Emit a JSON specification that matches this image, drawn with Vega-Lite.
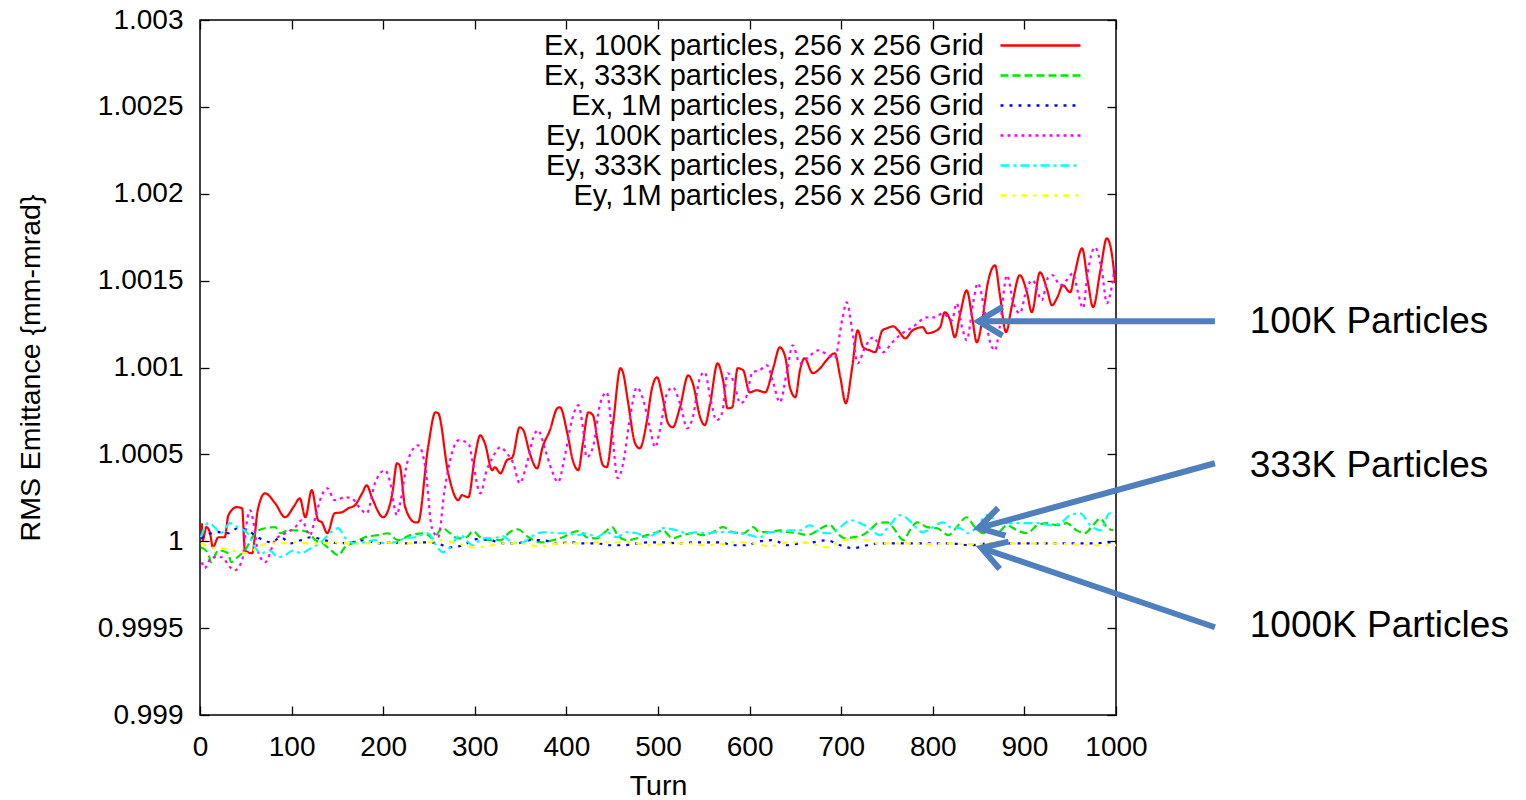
{
  "$schema": "https://vega.github.io/schema/vega-lite/v6.json",
  "width": 916,
  "height": 695,
  "autosize": {"type": "none"},
  "padding": {"left": 200, "top": 20, "right": 410, "bottom": 85},
  "background": "white",
  "config": {
    "view": {"stroke": "black", "strokeWidth": 1.5},
    "font": "Liberation Sans",
    "axis": {
      "domain": false,
      "grid": false,
      "tickColor": "black",
      "tickSize": -9,
      "tickWidth": 1.3,
      "labelFont": "Liberation Sans",
      "labelFontSize": 28,
      "labelColor": "black",
      "labelFlush": false,
      "labelOverlap": false,
      "titleFont": "Liberation Sans",
      "titleFontSize": 28.5,
      "titleFontWeight": "normal",
      "titleColor": "black"
    }
  },
  "datasets": {
    "emit": [
      {"s":"Ex100K","t":2,"v":1.000104},{"s":"Ex100K","t":3,"v":1.000006},{"s":"Ex100K","t":7,"v":1.000082},{"s":"Ex100K","t":11,"v":1.000046},{"s":"Ex100K","t":14,"v":0.999965},{"s":"Ex100K","t":20,"v":1.000023},{"s":"Ex100K","t":27,"v":1.000023},{"s":"Ex100K","t":31,"v":1.00015},{"s":"Ex100K","t":40,"v":1.000196},{"s":"Ex100K","t":46,"v":1.00019},{"s":"Ex100K","t":49,"v":0.999948},{"s":"Ex100K","t":57,"v":0.999931},{"s":"Ex100K","t":63,"v":1.000178},{"s":"Ex100K","t":71,"v":1.000276},{"s":"Ex100K","t":82,"v":1.000219},{"s":"Ex100K","t":93,"v":1.000138},{"s":"Ex100K","t":102,"v":1.000196},{"s":"Ex100K","t":109,"v":1.000247},{"s":"Ex100K","t":115,"v":1.000138},{"s":"Ex100K","t":122,"v":1.000294},{"s":"Ex100K","t":129,"v":1.000121},{"s":"Ex100K","t":133,"v":1.000109},{"s":"Ex100K","t":139,"v":1.000046},{"s":"Ex100K","t":147,"v":1.000161},{"s":"Ex100K","t":155,"v":1.000167},{"s":"Ex100K","t":162,"v":1.00019},{"s":"Ex100K","t":169,"v":1.000207},{"s":"Ex100K","t":177,"v":1.000276},{"s":"Ex100K","t":182,"v":1.000322},{"s":"Ex100K","t":188,"v":1.000247},{"s":"Ex100K","t":200,"v":1.000138},{"s":"Ex100K","t":210,"v":1.000276},{"s":"Ex100K","t":215,"v":1.000449},{"s":"Ex100K","t":218,"v":1.000437},{"s":"Ex100K","t":224,"v":1.000196},{"s":"Ex100K","t":235,"v":1.000109},{"s":"Ex100K","t":238,"v":1.000109},{"s":"Ex100K","t":249,"v":1.000541},{"s":"Ex100K","t":257,"v":1.000742},{"s":"Ex100K","t":260,"v":1.000737},{"s":"Ex100K","t":271,"v":1.000391},{"s":"Ex100K","t":282,"v":1.000236},{"s":"Ex100K","t":286,"v":1.000265},{"s":"Ex100K","t":293,"v":1.000253},{"s":"Ex100K","t":300,"v":1.000483},{"s":"Ex100K","t":306,"v":1.00061},{"s":"Ex100K","t":311,"v":1.000564},{"s":"Ex100K","t":319,"v":1.000409},{"s":"Ex100K","t":322,"v":1.000426},{"s":"Ex100K","t":328,"v":1.000391},{"s":"Ex100K","t":335,"v":1.000466},{"s":"Ex100K","t":341,"v":1.000483},{"s":"Ex100K","t":349,"v":1.000656},{"s":"Ex100K","t":353,"v":1.000639},{"s":"Ex100K","t":360,"v":1.000506},{"s":"Ex100K","t":368,"v":1.00042},{"s":"Ex100K","t":374,"v":1.000541},{"s":"Ex100K","t":382,"v":1.000639},{"s":"Ex100K","t":390,"v":1.000765},{"s":"Ex100K","t":393,"v":1.000771},{"s":"Ex100K","t":401,"v":1.000622},{"s":"Ex100K","t":407,"v":1.000466},{"s":"Ex100K","t":413,"v":1.000409},{"s":"Ex100K","t":418,"v":1.000564},{"s":"Ex100K","t":424,"v":1.000742},{"s":"Ex100K","t":429,"v":1.000725},{"s":"Ex100K","t":434,"v":1.000581},{"s":"Ex100K","t":440,"v":1.000437},{"s":"Ex100K","t":444,"v":1.000426},{"s":"Ex100K","t":451,"v":1.000679},{"s":"Ex100K","t":459,"v":1.000996},{"s":"Ex100K","t":462,"v":1.000967},{"s":"Ex100K","t":467,"v":1.000811},{"s":"Ex100K","t":475,"v":1.000564},{"s":"Ex100K","t":480,"v":1.000535},{"s":"Ex100K","t":488,"v":1.000696},{"s":"Ex100K","t":493,"v":1.000869},{"s":"Ex100K","t":499,"v":1.000944},{"s":"Ex100K","t":505,"v":1.000829},{"s":"Ex100K","t":511,"v":1.000679},{"s":"Ex100K","t":516,"v":1.000656},{"s":"Ex100K","t":524,"v":1.000771},{"s":"Ex100K","t":533,"v":1.000955},{"s":"Ex100K","t":538,"v":1.000909},{"s":"Ex100K","t":546,"v":1.000714},{"s":"Ex100K","t":551,"v":1.000668},{"s":"Ex100K","t":557,"v":1.000794},{"s":"Ex100K","t":565,"v":1.001024},{"s":"Ex100K","t":571,"v":1.000927},{"s":"Ex100K","t":576,"v":1.000765},{"s":"Ex100K","t":581,"v":1.000771},{"s":"Ex100K","t":587,"v":1.000996},{"s":"Ex100K","t":593,"v":1.000984},{"s":"Ex100K","t":600,"v":1.000857},{"s":"Ex100K","t":608,"v":1.000869},{"s":"Ex100K","t":617,"v":1.000857},{"s":"Ex100K","t":626,"v":1.001001},{"s":"Ex100K","t":633,"v":1.001116},{"s":"Ex100K","t":639,"v":1.001059},{"s":"Ex100K","t":644,"v":1.000886},{"s":"Ex100K","t":650,"v":1.000829},{"s":"Ex100K","t":655,"v":1.000984},{"s":"Ex100K","t":660,"v":1.001053},{"s":"Ex100K","t":669,"v":1.000967},{"s":"Ex100K","t":677,"v":1.000996},{"s":"Ex100K","t":684,"v":1.001042},{"s":"Ex100K","t":693,"v":1.001082},{"s":"Ex100K","t":699,"v":1.000944},{"s":"Ex100K","t":705,"v":1.000794},{"s":"Ex100K","t":712,"v":1.001001},{"s":"Ex100K","t":718,"v":1.001214},{"s":"Ex100K","t":724,"v":1.001116},{"s":"Ex100K","t":731,"v":1.001099},{"s":"Ex100K","t":737,"v":1.001088},{"s":"Ex100K","t":745,"v":1.001214},{"s":"Ex100K","t":750,"v":1.001226},{"s":"Ex100K","t":757,"v":1.001237},{"s":"Ex100K","t":762,"v":1.001214},{"s":"Ex100K","t":770,"v":1.001168},{"s":"Ex100K","t":778,"v":1.001214},{"s":"Ex100K","t":789,"v":1.001232},{"s":"Ex100K","t":794,"v":1.001197},{"s":"Ex100K","t":800,"v":1.001203},{"s":"Ex100K","t":808,"v":1.001232},{"s":"Ex100K","t":813,"v":1.001318},{"s":"Ex100K","t":819,"v":1.001272},{"s":"Ex100K","t":824,"v":1.001174},{"s":"Ex100K","t":830,"v":1.001312},{"s":"Ex100K","t":837,"v":1.001444},{"s":"Ex100K","t":843,"v":1.001289},{"s":"Ex100K","t":848,"v":1.001145},{"s":"Ex100K","t":854,"v":1.001272},{"s":"Ex100K","t":860,"v":1.001485},{"s":"Ex100K","t":868,"v":1.001588},{"s":"Ex100K","t":873,"v":1.001427},{"s":"Ex100K","t":880,"v":1.001203},{"s":"Ex100K","t":886,"v":1.001347},{"s":"Ex100K","t":895,"v":1.001531},{"s":"Ex100K","t":903,"v":1.001427},{"s":"Ex100K","t":908,"v":1.001318},{"s":"Ex100K","t":917,"v":1.001548},{"s":"Ex100K","t":925,"v":1.001444},{"s":"Ex100K","t":930,"v":1.001358},{"s":"Ex100K","t":936,"v":1.001404},{"s":"Ex100K","t":942,"v":1.001473},{"s":"Ex100K","t":950,"v":1.001433},{"s":"Ex100K","t":955,"v":1.001542},{"s":"Ex100K","t":963,"v":1.001686},{"s":"Ex100K","t":969,"v":1.001502},{"s":"Ex100K","t":975,"v":1.001347},{"s":"Ex100K","t":983,"v":1.00156},{"s":"Ex100K","t":990,"v":1.001744},{"s":"Ex100K","t":996,"v":1.001634},{"s":"Ex100K","t":999,"v":1.001485},

      {"s":"Ex333K","t":1,"v":0.999965},{"s":"Ex333K","t":9,"v":0.999931},{"s":"Ex333K","t":12,"v":0.999879},{"s":"Ex333K","t":20,"v":0.999948},{"s":"Ex333K","t":31,"v":0.999931},{"s":"Ex333K","t":34,"v":0.999879},{"s":"Ex333K","t":41,"v":0.999908},{"s":"Ex333K","t":49,"v":0.999948},{"s":"Ex333K","t":61,"v":1.000052},{"s":"Ex333K","t":71,"v":1.000075},{"s":"Ex333K","t":82,"v":1.000081},{"s":"Ex333K","t":88,"v":1.000046},{"s":"Ex333K","t":96,"v":1.000063},{"s":"Ex333K","t":107,"v":1.000063},{"s":"Ex333K","t":118,"v":1.000052},{"s":"Ex333K","t":126,"v":1.000006},{"s":"Ex333K","t":134,"v":0.999988},{"s":"Ex333K","t":143,"v":0.999948},{"s":"Ex333K","t":151,"v":0.999919},{"s":"Ex333K","t":158,"v":0.999965},{"s":"Ex333K","t":169,"v":0.999994},{"s":"Ex333K","t":180,"v":1.000023},{"s":"Ex333K","t":194,"v":1.000035},{"s":"Ex333K","t":205,"v":1.000046},{"s":"Ex333K","t":216,"v":1.000006},{"s":"Ex333K","t":230,"v":1.000035},{"s":"Ex333K","t":246,"v":1.000046},{"s":"Ex333K","t":254,"v":1.000017},{"s":"Ex333K","t":265,"v":1.000075},{"s":"Ex333K","t":273,"v":1.000046},{"s":"Ex333K","t":281,"v":1.000017},{"s":"Ex333K","t":291,"v":1.000023},{"s":"Ex333K","t":298,"v":1.000058},{"s":"Ex333K","t":306,"v":1.000023},{"s":"Ex333K","t":317,"v":1.000006},{"s":"Ex333K","t":328,"v":1.000006},{"s":"Ex333K","t":338,"v":1.000052},{"s":"Ex333K","t":347,"v":1.000069},{"s":"Ex333K","t":357,"v":1.000029},{"s":"Ex333K","t":364,"v":1.000006},{"s":"Ex333K","t":374,"v":0.999994},{"s":"Ex333K","t":385,"v":1.000006},{"s":"Ex333K","t":396,"v":1.000023},{"s":"Ex333K","t":407,"v":1.000052},{"s":"Ex333K","t":415,"v":1.000058},{"s":"Ex333K","t":422,"v":1.000023},{"s":"Ex333K","t":433,"v":1.000017},{"s":"Ex333K","t":442,"v":1.000052},{"s":"Ex333K","t":450,"v":1.000081},{"s":"Ex333K","t":456,"v":1.000035},{"s":"Ex333K","t":466,"v":1.000006},{"s":"Ex333K","t":477,"v":1.000017},{"s":"Ex333K","t":488,"v":1.000035},{"s":"Ex333K","t":499,"v":1.000052},{"s":"Ex333K","t":505,"v":1.000063},{"s":"Ex333K","t":516,"v":1.000017},{"s":"Ex333K","t":527,"v":1.000035},{"s":"Ex333K","t":538,"v":1.000046},{"s":"Ex333K","t":549,"v":1.000035},{"s":"Ex333K","t":560,"v":1.000052},{"s":"Ex333K","t":571,"v":1.000081},{"s":"Ex333K","t":582,"v":1.000052},{"s":"Ex333K","t":593,"v":1.000046},{"s":"Ex333K","t":604,"v":1.000081},{"s":"Ex333K","t":611,"v":1.000052},{"s":"Ex333K","t":622,"v":1.000052},{"s":"Ex333K","t":633,"v":1.000063},{"s":"Ex333K","t":642,"v":1.000052},{"s":"Ex333K","t":653,"v":1.000046},{"s":"Ex333K","t":663,"v":1.000035},{"s":"Ex333K","t":671,"v":1.000052},{"s":"Ex333K","t":680,"v":1.000081},{"s":"Ex333K","t":688,"v":1.000092},{"s":"Ex333K","t":695,"v":1.000052},{"s":"Ex333K","t":704,"v":1.000017},{"s":"Ex333K","t":713,"v":1.000023},{"s":"Ex333K","t":723,"v":1.000035},{"s":"Ex333K","t":731,"v":1.000063},{"s":"Ex333K","t":740,"v":1.000104},{"s":"Ex333K","t":750,"v":1.000109},{"s":"Ex333K","t":759,"v":1.000063},{"s":"Ex333K","t":764,"v":1.000023},{"s":"Ex333K","t":768,"v":1.000006},{"s":"Ex333K","t":775,"v":1.000063},{"s":"Ex333K","t":783,"v":1.000109},{"s":"Ex333K","t":794,"v":1.000081},{"s":"Ex333K","t":805,"v":1.000075},{"s":"Ex333K","t":817,"v":1.000035},{"s":"Ex333K","t":826,"v":1.000081},{"s":"Ex333K","t":837,"v":1.000138},{"s":"Ex333K","t":846,"v":1.000081},{"s":"Ex333K","t":855,"v":1.000046},{"s":"Ex333K","t":862,"v":1.000063},{"s":"Ex333K","t":870,"v":1.000046},{"s":"Ex333K","t":881,"v":1.000092},{"s":"Ex333K","t":892,"v":1.000063},{"s":"Ex333K","t":903,"v":1.000046},{"s":"Ex333K","t":914,"v":1.000092},{"s":"Ex333K","t":925,"v":1.000104},{"s":"Ex333K","t":936,"v":1.000092},{"s":"Ex333K","t":946,"v":1.000104},{"s":"Ex333K","t":957,"v":1.000063},{"s":"Ex333K","t":966,"v":1.000046},{"s":"Ex333K","t":975,"v":1.000092},{"s":"Ex333K","t":983,"v":1.000132},{"s":"Ex333K","t":990,"v":1.000081},{"s":"Ex333K","t":997,"v":1.000063},

      {"s":"Ex1M","t":1,"v":1.000017},{"s":"Ex1M","t":12,"v":1.000046},{"s":"Ex1M","t":20,"v":1.000052},{"s":"Ex1M","t":31,"v":1.000046},{"s":"Ex1M","t":41,"v":1.000075},{"s":"Ex1M","t":52,"v":1.000063},{"s":"Ex1M","t":63,"v":1.000023},{"s":"Ex1M","t":78,"v":0.999994},{"s":"Ex1M","t":88,"v":1.000023},{"s":"Ex1M","t":99,"v":0.999988},{"s":"Ex1M","t":110,"v":1.000006},{"s":"Ex1M","t":121,"v":1.000023},{"s":"Ex1M","t":136,"v":1.000006},{"s":"Ex1M","t":151,"v":0.999988},{"s":"Ex1M","t":165,"v":0.999994},{"s":"Ex1M","t":180,"v":1.000006},{"s":"Ex1M","t":194,"v":0.999988},{"s":"Ex1M","t":209,"v":0.999994},{"s":"Ex1M","t":224,"v":0.999988},{"s":"Ex1M","t":238,"v":0.999994},{"s":"Ex1M","t":252,"v":0.999994},{"s":"Ex1M","t":259,"v":0.999988},{"s":"Ex1M","t":273,"v":0.999965},{"s":"Ex1M","t":287,"v":0.999977},{"s":"Ex1M","t":302,"v":1.000012},{"s":"Ex1M","t":317,"v":1.000006},{"s":"Ex1M","t":331,"v":0.999988},{"s":"Ex1M","t":346,"v":0.999988},{"s":"Ex1M","t":360,"v":1.000006},{"s":"Ex1M","t":374,"v":1.000006},{"s":"Ex1M","t":390,"v":0.999988},{"s":"Ex1M","t":404,"v":0.999994},{"s":"Ex1M","t":418,"v":0.999988},{"s":"Ex1M","t":433,"v":0.999988},{"s":"Ex1M","t":448,"v":0.999977},{"s":"Ex1M","t":462,"v":0.999977},{"s":"Ex1M","t":477,"v":0.999988},{"s":"Ex1M","t":491,"v":0.999994},{"s":"Ex1M","t":505,"v":0.999994},{"s":"Ex1M","t":524,"v":0.999988},{"s":"Ex1M","t":538,"v":0.999994},{"s":"Ex1M","t":553,"v":0.999994},{"s":"Ex1M","t":568,"v":0.999994},{"s":"Ex1M","t":582,"v":0.999977},{"s":"Ex1M","t":597,"v":0.999977},{"s":"Ex1M","t":611,"v":1.0},{"s":"Ex1M","t":626,"v":1.000006},{"s":"Ex1M","t":641,"v":0.999977},{"s":"Ex1M","t":655,"v":0.999988},{"s":"Ex1M","t":669,"v":0.999994},{"s":"Ex1M","t":684,"v":1.000006},{"s":"Ex1M","t":699,"v":0.999977},{"s":"Ex1M","t":713,"v":0.99996},{"s":"Ex1M","t":728,"v":0.999977},{"s":"Ex1M","t":742,"v":0.999988},{"s":"Ex1M","t":757,"v":0.999988},{"s":"Ex1M","t":775,"v":0.999988},{"s":"Ex1M","t":797,"v":0.999988},{"s":"Ex1M","t":819,"v":0.999988},{"s":"Ex1M","t":841,"v":0.999977},{"s":"Ex1M","t":862,"v":0.999988},{"s":"Ex1M","t":884,"v":0.999988},{"s":"Ex1M","t":906,"v":0.999988},{"s":"Ex1M","t":928,"v":0.999988},{"s":"Ex1M","t":950,"v":0.999988},{"s":"Ex1M","t":972,"v":0.999988},{"s":"Ex1M","t":993,"v":0.999994},{"s":"Ex1M","t":1000,"v":1.000006},

      {"s":"Ey100K","t":2,"v":0.999879},{"s":"Ey100K","t":5,"v":0.999845},{"s":"Ey100K","t":13,"v":0.999908},{"s":"Ey100K","t":24,"v":0.999908},{"s":"Ey100K","t":33,"v":0.99985},{"s":"Ey100K","t":38,"v":0.999833},{"s":"Ey100K","t":46,"v":0.999891},{"s":"Ey100K","t":52,"v":1.000138},{"s":"Ey100K","t":55,"v":1.000178},{"s":"Ey100K","t":58,"v":1.000121},{"s":"Ey100K","t":63,"v":0.999948},{"s":"Ey100K","t":71,"v":0.999879},{"s":"Ey100K","t":82,"v":1.000006},{"s":"Ey100K","t":93,"v":1.000046},{"s":"Ey100K","t":104,"v":1.000081},{"s":"Ey100K","t":111,"v":1.000121},{"s":"Ey100K","t":120,"v":1.000035},{"s":"Ey100K","t":126,"v":1.000138},{"s":"Ey100K","t":131,"v":1.000236},{"s":"Ey100K","t":139,"v":1.000305},{"s":"Ey100K","t":147,"v":1.000236},{"s":"Ey100K","t":158,"v":1.000253},{"s":"Ey100K","t":166,"v":1.000247},{"s":"Ey100K","t":172,"v":1.000207},{"s":"Ey100K","t":182,"v":1.000161},{"s":"Ey100K","t":191,"v":1.000334},{"s":"Ey100K","t":202,"v":1.000409},{"s":"Ey100K","t":207,"v":1.000351},{"s":"Ey100K","t":215,"v":1.00015},{"s":"Ey100K","t":218,"v":1.000207},{"s":"Ey100K","t":227,"v":1.000466},{"s":"Ey100K","t":238,"v":1.000552},{"s":"Ey100K","t":246,"v":1.000426},{"s":"Ey100K","t":253,"v":1.000081},{"s":"Ey100K","t":260,"v":1.000023},{"s":"Ey100K","t":267,"v":1.000294},{"s":"Ey100K","t":275,"v":1.000506},{"s":"Ey100K","t":282,"v":1.000581},{"s":"Ey100K","t":293,"v":1.000564},{"s":"Ey100K","t":298,"v":1.000449},{"s":"Ey100K","t":306,"v":1.000276},{"s":"Ey100K","t":313,"v":1.000409},{"s":"Ey100K","t":319,"v":1.000478},{"s":"Ey100K","t":328,"v":1.000541},{"s":"Ey100K","t":335,"v":1.000506},{"s":"Ey100K","t":342,"v":1.000449},{"s":"Ey100K","t":349,"v":1.000334},{"s":"Ey100K","t":357,"v":1.000449},{"s":"Ey100K","t":364,"v":1.000599},{"s":"Ey100K","t":369,"v":1.000639},{"s":"Ey100K","t":377,"v":1.000524},{"s":"Ey100K","t":384,"v":1.000409},{"s":"Ey100K","t":391,"v":1.00034},{"s":"Ey100K","t":398,"v":1.000483},{"s":"Ey100K","t":406,"v":1.000696},{"s":"Ey100K","t":413,"v":1.000783},{"s":"Ey100K","t":418,"v":1.000656},{"s":"Ey100K","t":422,"v":1.000483},{"s":"Ey100K","t":429,"v":1.000541},{"s":"Ey100K","t":437,"v":1.000794},{"s":"Ey100K","t":444,"v":1.000857},{"s":"Ey100K","t":450,"v":1.000622},{"s":"Ey100K","t":456,"v":1.000363},{"s":"Ey100K","t":462,"v":1.000449},{"s":"Ey100K","t":469,"v":1.000696},{"s":"Ey100K","t":477,"v":1.000886},{"s":"Ey100K","t":484,"v":1.000811},{"s":"Ey100K","t":491,"v":1.000656},{"s":"Ey100K","t":497,"v":1.000541},{"s":"Ey100K","t":502,"v":1.000639},{"s":"Ey100K","t":510,"v":1.000852},{"s":"Ey100K","t":516,"v":1.000886},{"s":"Ey100K","t":524,"v":1.000794},{"s":"Ey100K","t":532,"v":1.00065},{"s":"Ey100K","t":538,"v":1.000714},{"s":"Ey100K","t":546,"v":1.000944},{"s":"Ey100K","t":551,"v":1.000973},{"s":"Ey100K","t":557,"v":1.000829},{"s":"Ey100K","t":564,"v":1.000696},{"s":"Ey100K","t":570,"v":1.000737},{"s":"Ey100K","t":576,"v":1.000967},{"s":"Ey100K","t":582,"v":1.000927},{"s":"Ey100K","t":590,"v":1.000794},{"s":"Ey100K","t":597,"v":1.00084},{"s":"Ey100K","t":603,"v":1.000973},{"s":"Ey100K","t":611,"v":1.000984},{"s":"Ey100K","t":619,"v":1.001013},{"s":"Ey100K","t":626,"v":1.000909},{"s":"Ey100K","t":633,"v":1.0008},{"s":"Ey100K","t":641,"v":1.000984},{"s":"Ey100K","t":647,"v":1.001128},{"s":"Ey100K","t":655,"v":1.001024},{"s":"Ey100K","t":664,"v":1.001059},{"s":"Ey100K","t":675,"v":1.001099},{"s":"Ey100K","t":686,"v":1.00107},{"s":"Ey100K","t":693,"v":1.001053},{"s":"Ey100K","t":701,"v":1.001272},{"s":"Ey100K","t":706,"v":1.001375},{"s":"Ey100K","t":712,"v":1.001214},{"s":"Ey100K","t":718,"v":1.001024},{"s":"Ey100K","t":726,"v":1.001116},{"s":"Ey100K","t":735,"v":1.001174},{"s":"Ey100K","t":746,"v":1.001088},{"s":"Ey100K","t":755,"v":1.00114},{"s":"Ey100K","t":764,"v":1.001186},{"s":"Ey100K","t":778,"v":1.001232},{"s":"Ey100K","t":794,"v":1.001289},{"s":"Ey100K","t":802,"v":1.001289},{"s":"Ey100K","t":811,"v":1.001312},{"s":"Ey100K","t":821,"v":1.001272},{"s":"Ey100K","t":826,"v":1.00137},{"s":"Ey100K","t":832,"v":1.001232},{"s":"Ey100K","t":837,"v":1.001157},{"s":"Ey100K","t":844,"v":1.00137},{"s":"Ey100K","t":849,"v":1.001485},{"s":"Ey100K","t":857,"v":1.001312},{"s":"Ey100K","t":862,"v":1.001157},{"s":"Ey100K","t":868,"v":1.001099},{"s":"Ey100K","t":873,"v":1.001232},{"s":"Ey100K","t":881,"v":1.001531},{"s":"Ey100K","t":888,"v":1.00137},{"s":"Ey100K","t":895,"v":1.001312},{"s":"Ey100K","t":903,"v":1.001462},{"s":"Ey100K","t":909,"v":1.001502},{"s":"Ey100K","t":919,"v":1.001387},{"s":"Ey100K","t":926,"v":1.001519},{"s":"Ey100K","t":931,"v":1.001531},{"s":"Ey100K","t":939,"v":1.001473},{"s":"Ey100K","t":946,"v":1.001502},{"s":"Ey100K","t":953,"v":1.001542},{"s":"Ey100K","t":958,"v":1.001444},{"s":"Ey100K","t":964,"v":1.001341},{"s":"Ey100K","t":969,"v":1.001542},{"s":"Ey100K","t":977,"v":1.001692},{"s":"Ey100K","t":985,"v":1.001542},{"s":"Ey100K","t":990,"v":1.00137},{"s":"Ey100K","t":996,"v":1.001485},{"s":"Ey100K","t":999,"v":1.0016},

      {"s":"Ey333K","t":1,"v":1.000023},{"s":"Ey333K","t":9,"v":1.000104},{"s":"Ey333K","t":16,"v":1.000081},{"s":"Ey333K","t":23,"v":1.000046},{"s":"Ey333K","t":33,"v":1.000104},{"s":"Ey333K","t":41,"v":1.000081},{"s":"Ey333K","t":52,"v":1.000046},{"s":"Ey333K","t":60,"v":0.999965},{"s":"Ey333K","t":67,"v":0.999931},{"s":"Ey333K","t":76,"v":0.999948},{"s":"Ey333K","t":85,"v":0.999908},{"s":"Ey333K","t":93,"v":0.999919},{"s":"Ey333K","t":102,"v":0.999948},{"s":"Ey333K","t":110,"v":0.999931},{"s":"Ey333K","t":121,"v":0.99996},{"s":"Ey333K","t":132,"v":0.999994},{"s":"Ey333K","t":143,"v":1.000052},{"s":"Ey333K","t":151,"v":1.000075},{"s":"Ey333K","t":158,"v":1.000023},{"s":"Ey333K","t":169,"v":0.999988},{"s":"Ey333K","t":180,"v":0.999994},{"s":"Ey333K","t":191,"v":1.000006},{"s":"Ey333K","t":202,"v":0.999988},{"s":"Ey333K","t":213,"v":0.999994},{"s":"Ey333K","t":224,"v":1.000017},{"s":"Ey333K","t":235,"v":1.000023},{"s":"Ey333K","t":249,"v":1.000046},{"s":"Ey333K","t":259,"v":0.999965},{"s":"Ey333K","t":265,"v":0.999937},{"s":"Ey333K","t":273,"v":0.999965},{"s":"Ey333K","t":284,"v":1.000035},{"s":"Ey333K","t":298,"v":0.999977},{"s":"Ey333K","t":309,"v":1.000017},{"s":"Ey333K","t":320,"v":1.000017},{"s":"Ey333K","t":330,"v":1.000029},{"s":"Ey333K","t":341,"v":0.999994},{"s":"Ey333K","t":349,"v":0.999988},{"s":"Ey333K","t":360,"v":1.000017},{"s":"Ey333K","t":368,"v":1.000046},{"s":"Ey333K","t":379,"v":1.000052},{"s":"Ey333K","t":390,"v":1.000046},{"s":"Ey333K","t":401,"v":1.000046},{"s":"Ey333K","t":412,"v":1.000035},{"s":"Ey333K","t":422,"v":1.000046},{"s":"Ey333K","t":433,"v":1.000023},{"s":"Ey333K","t":444,"v":1.000052},{"s":"Ey333K","t":455,"v":1.000023},{"s":"Ey333K","t":466,"v":1.000052},{"s":"Ey333K","t":477,"v":1.000046},{"s":"Ey333K","t":488,"v":1.000023},{"s":"Ey333K","t":499,"v":1.000052},{"s":"Ey333K","t":505,"v":1.000075},{"s":"Ey333K","t":521,"v":1.000063},{"s":"Ey333K","t":532,"v":1.000046},{"s":"Ey333K","t":543,"v":1.000052},{"s":"Ey333K","t":553,"v":1.000046},{"s":"Ey333K","t":564,"v":1.000052},{"s":"Ey333K","t":579,"v":1.000052},{"s":"Ey333K","t":590,"v":1.000046},{"s":"Ey333K","t":600,"v":1.000035},{"s":"Ey333K","t":611,"v":1.000023},{"s":"Ey333K","t":622,"v":1.000052},{"s":"Ey333K","t":633,"v":1.000052},{"s":"Ey333K","t":644,"v":1.000063},{"s":"Ey333K","t":655,"v":1.000063},{"s":"Ey333K","t":666,"v":1.000092},{"s":"Ey333K","t":677,"v":1.000052},{"s":"Ey333K","t":688,"v":1.000046},{"s":"Ey333K","t":699,"v":1.000081},{"s":"Ey333K","t":710,"v":1.000121},{"s":"Ey333K","t":721,"v":1.000104},{"s":"Ey333K","t":731,"v":1.000075},{"s":"Ey333K","t":742,"v":1.000035},{"s":"Ey333K","t":753,"v":1.000092},{"s":"Ey333K","t":764,"v":1.00015},{"s":"Ey333K","t":772,"v":1.000132},{"s":"Ey333K","t":781,"v":1.000081},{"s":"Ey333K","t":789,"v":1.000052},{"s":"Ey333K","t":800,"v":1.000081},{"s":"Ey333K","t":811,"v":1.000109},{"s":"Ey333K","t":819,"v":1.000081},{"s":"Ey333K","t":830,"v":1.000075},{"s":"Ey333K","t":838,"v":1.000046},{"s":"Ey333K","t":848,"v":1.000081},{"s":"Ey333K","t":859,"v":1.00015},{"s":"Ey333K","t":866,"v":1.000132},{"s":"Ey333K","t":877,"v":1.000104},{"s":"Ey333K","t":892,"v":1.000104},{"s":"Ey333K","t":906,"v":1.000104},{"s":"Ey333K","t":917,"v":1.000104},{"s":"Ey333K","t":928,"v":1.000092},{"s":"Ey333K","t":939,"v":1.000104},{"s":"Ey333K","t":950,"v":1.00015},{"s":"Ey333K","t":961,"v":1.000161},{"s":"Ey333K","t":972,"v":1.000092},{"s":"Ey333K","t":983,"v":1.000063},{"s":"Ey333K","t":993,"v":1.000161},{"s":"Ey333K","t":999,"v":1.00015},

      {"s":"Ey1M","t":1,"v":0.999988},{"s":"Ey1M","t":12,"v":0.999965},{"s":"Ey1M","t":23,"v":0.99996},{"s":"Ey1M","t":34,"v":0.999948},{"s":"Ey1M","t":45,"v":0.999937},{"s":"Ey1M","t":52,"v":0.999931},{"s":"Ey1M","t":63,"v":0.999965},{"s":"Ey1M","t":74,"v":0.999988},{"s":"Ey1M","t":88,"v":0.999988},{"s":"Ey1M","t":104,"v":0.999994},{"s":"Ey1M","t":118,"v":0.999988},{"s":"Ey1M","t":132,"v":0.999988},{"s":"Ey1M","t":147,"v":0.999994},{"s":"Ey1M","t":162,"v":0.999988},{"s":"Ey1M","t":176,"v":0.999988},{"s":"Ey1M","t":191,"v":0.999988},{"s":"Ey1M","t":205,"v":0.999994},{"s":"Ey1M","t":219,"v":0.999988},{"s":"Ey1M","t":235,"v":0.999988},{"s":"Ey1M","t":249,"v":0.999994},{"s":"Ey1M","t":262,"v":1.000006},{"s":"Ey1M","t":281,"v":0.999988},{"s":"Ey1M","t":298,"v":0.999965},{"s":"Ey1M","t":313,"v":0.999971},{"s":"Ey1M","t":331,"v":0.999988},{"s":"Ey1M","t":349,"v":0.999988},{"s":"Ey1M","t":371,"v":0.999971},{"s":"Ey1M","t":393,"v":0.999988},{"s":"Ey1M","t":415,"v":0.999988},{"s":"Ey1M","t":433,"v":0.999994},{"s":"Ey1M","t":451,"v":0.999994},{"s":"Ey1M","t":469,"v":0.999994},{"s":"Ey1M","t":491,"v":0.999977},{"s":"Ey1M","t":513,"v":0.999988},{"s":"Ey1M","t":532,"v":0.999988},{"s":"Ey1M","t":549,"v":0.999977},{"s":"Ey1M","t":568,"v":0.999983},{"s":"Ey1M","t":586,"v":0.999994},{"s":"Ey1M","t":604,"v":0.999988},{"s":"Ey1M","t":622,"v":0.999971},{"s":"Ey1M","t":644,"v":0.999994},{"s":"Ey1M","t":666,"v":0.999988},{"s":"Ey1M","t":684,"v":0.999965},{"s":"Ey1M","t":702,"v":1.000006},{"s":"Ey1M","t":721,"v":1.000012},{"s":"Ey1M","t":739,"v":0.999988},{"s":"Ey1M","t":753,"v":0.999988},{"s":"Ey1M","t":775,"v":0.999988},{"s":"Ey1M","t":797,"v":0.999983},{"s":"Ey1M","t":819,"v":0.999988},{"s":"Ey1M","t":841,"v":0.999983},{"s":"Ey1M","t":862,"v":0.999988},{"s":"Ey1M","t":884,"v":0.999988},{"s":"Ey1M","t":906,"v":0.999988},{"s":"Ey1M","t":928,"v":0.999988},{"s":"Ey1M","t":950,"v":0.999983},{"s":"Ey1M","t":972,"v":0.999977},{"s":"Ey1M","t":993,"v":0.999977},{"s":"Ey1M","t":1000,"v":0.999977}
    ],
    "arrows": [
      {"t": 1108, "v": 1.001266, "t2": 850, "v2": 1.001266, "ang": 0},
      {"t": 1108, "v": 1.000449, "t2": 850, "v2": 1.000076, "ang": 345},
      {"t": 1108, "v": 0.999505, "t2": 853, "v2": 0.999962, "ang": 18}
    ],
    "notes": [
      {"t": 1146, "v": 1.00126, "label": "100K Particles"},
      {"t": 1146, "v": 1.000432, "label": "333K Particles"},
      {"t": 1146, "v": 0.999511, "label": "1000K Particles"}
    ]
  },
  "layer": [
    {
      "data": {"name": "emit"},
      "mark": {"type": "line", "strokeWidth": 2.2, "clip": true, "interpolate": "monotone"},
      "encoding": {
        "x": {
          "field": "t", "type": "quantitative",
          "scale": {"domain": [0, 1000], "nice": false},
          "axis": {"orient": "bottom", "title": "Turn", "format": "d", "values": [0,100,200,300,400,500,600,700,800,900,1000], "labelPadding": 27, "titlePadding": 10}
        },
        "y": {
          "field": "v", "type": "quantitative",
          "scale": {"domain": [0.999, 1.003], "nice": false, "zero": false},
          "axis": {"orient": "left", "title": "RMS Emittance {mm-mrad}", "values": [0.999,0.9995,1,1.0005,1.001,1.0015,1.002,1.0025,1.003], "format": ".6~g", "labelPadding": 26, "titlePadding": 52}
        },
        "color": {
          "field": "s", "type": "nominal",
          "scale": {"domain": ["Ex100K","Ex333K","Ex1M","Ey100K","Ey333K","Ey1M"], "range": ["#ff0000","#00e600","#0000ff","#ff00ff","#00ffff","#ffff00"]},
          "legend": {"title": null, "orient": "none", "legendX": 795, "legendY": 11, "padding": 0, "symbolType": "M-8,0L8,0", "symbolSize": 100, "symbolOffset": 31, "symbolStrokeWidth": 2.5, "labelFont": "Liberation Sans", "labelFontSize": 29, "labelColor": "black", "labelAlign": "right", "labelOffset": -71, "labelLimit": 800, "rowPadding": -2,
            "labelExpr": "datum.label=='Ex100K'?'Ex, 100K particles, 256 x 256 Grid':datum.label=='Ex333K'?'Ex, 333K particles, 256 x 256 Grid':datum.label=='Ex1M'?'Ex, 1M particles, 256 x 256 Grid':datum.label=='Ey100K'?'Ey, 100K particles, 256 x 256 Grid':datum.label=='Ey333K'?'Ey, 333K particles, 256 x 256 Grid':'Ey, 1M particles, 256 x 256 Grid'"}
        },
        "strokeDash": {
          "field": "s", "type": "nominal",
          "scale": {"domain": ["Ex100K","Ex333K","Ex1M","Ey100K","Ey333K","Ey1M"], "range": [[1,0],[8,4],[3,6],[3,4],[9,4,3,4],[6,6,3,6]]},
          "legend": {"title": null, "orient": "none", "legendX": 795, "legendY": 11, "padding": 0, "symbolType": "M-8,0L8,0", "symbolSize": 100, "symbolOffset": 31, "symbolStrokeWidth": 2.5, "labelFont": "Liberation Sans", "labelFontSize": 29, "labelColor": "black", "labelAlign": "right", "labelOffset": -71, "labelLimit": 800, "rowPadding": -2,
            "labelExpr": "datum.label=='Ex100K'?'Ex, 100K particles, 256 x 256 Grid':datum.label=='Ex333K'?'Ex, 333K particles, 256 x 256 Grid':datum.label=='Ex1M'?'Ex, 1M particles, 256 x 256 Grid':datum.label=='Ey100K'?'Ey, 100K particles, 256 x 256 Grid':datum.label=='Ey333K'?'Ey, 333K particles, 256 x 256 Grid':'Ey, 1M particles, 256 x 256 Grid'"}
        }
      }
    },
    {
      "data": {"name": "emit"},
      "mark": {"type": "line", "opacity": 0},
      "encoding": {
        "x": {"field": "t", "type": "quantitative", "axis": {"orient": "top", "labels": false, "title": null, "values": [0,100,200,300,400,500,600,700,800,900,1000]}},
        "y": {"field": "v", "type": "quantitative", "axis": {"orient": "right", "labels": false, "title": null, "values": [0.999,0.9995,1,1.0005,1.001,1.0015,1.002,1.0025,1.003]}}
      }
    },
    {
      "data": {"name": "arrows"},
      "mark": {"type": "rule", "color": "#4f7fbd", "strokeWidth": 6, "clip": false},
      "encoding": {
        "x": {"field": "t", "type": "quantitative", "axis": null},
        "y": {"field": "v", "type": "quantitative", "axis": null},
        "x2": {"field": "t2"},
        "y2": {"field": "v2"}
      }
    },
    {
      "data": {"name": "arrows"},
      "mark": {"type": "point", "shape": "M1,-0.6L0,0L1,0.6", "filled": false, "stroke": "#4f7fbd", "strokeWidth": 6, "size": 2300, "opacity": 1, "strokeCap": "butt", "strokeJoin": "miter", "clip": false},
      "encoding": {
        "x": {"field": "t2", "type": "quantitative", "axis": null},
        "y": {"field": "v2", "type": "quantitative", "axis": null},
        "angle": {"field": "ang", "type": "quantitative", "scale": null}
      }
    },
    {
      "data": {"name": "notes"},
      "mark": {"type": "text", "align": "left", "baseline": "middle", "font": "Liberation Sans", "fontSize": 37, "color": "black", "clip": false},
      "encoding": {
        "x": {"field": "t", "type": "quantitative", "axis": null},
        "y": {"field": "v", "type": "quantitative", "axis": null},
        "text": {"field": "label"}
      }
    }
  ],
  "resolve": {"axis": {"x": "independent", "y": "independent"}}
}
